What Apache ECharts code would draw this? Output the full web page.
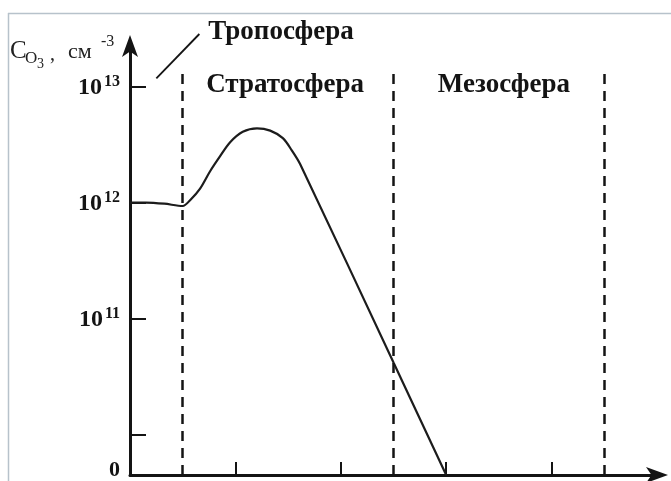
<!DOCTYPE html>
<html><head><meta charset="utf-8">
<script src="https://cdn.jsdelivr.net/npm/echarts@6/dist/echarts.min.js"></script>
<style>html,body{margin:0;padding:0;background:#fff}#c{width:671px;height:481px}</style>
</head><body><div id="c"></div>
<script>
// Altitude (km) vs log10 of ozone concentration (cm^-3); 9.65 = axis floor labelled "0"
const altitudeKm       = [0,     3.0,   6.5,   10.0,  11.4,  13.3,  15.2,  17.1,  19.0,  21.4,  24.1,  26.6,  29.0,  30.7,  32.3,  50.0,  60.0];
const logConcentration = [12.00, 12.00, 11.99, 11.97, 12.02, 12.12, 12.27, 12.40, 12.52, 12.61, 12.64, 12.62, 12.555, 12.45, 12.33, 10.62, 9.65];
const xTickKm = [20, 40, 60, 80];
const yTickExp = [10, 11, 12, 13];
const yLabelExp = [9.65, 11, 12, 13];
const layerBoundariesKm = [10, 50, 90];
const layerNames = ['Тропосфера', 'Стратосфера', 'Мезосфера'];
const layerRangesKm = [[0, 10], [10, 50], [50, 90]];

const Y_MIN = 9.65, Y_MAX = 13.35, X_MAX = 100, DASH_TOP = 13.12, LAYER_LABEL_LEVEL = 13.01;
const serif = '"Liberation Serif", "DejaVu Serif", serif';
const ink = '#141414';

const chart = echarts.init(document.getElementById('c'), null, {renderer: 'canvas'});
const option = {
  animation: false,
  backgroundColor: '#fff',
  grid: {left: 130, right: 14, top: 46, bottom: 6},
  xAxis: {
    type: 'value', min: 0, max: X_MAX,
    axisLine: {show: true, onZero: false, symbol: ['none', 'arrow'], symbolSize: [12, 22], symbolOffset: [0, 11], lineStyle: {color: ink, width: 3}},
    axisTick: {show: true, inside: true, length: 13, customValues: xTickKm, lineStyle: {color: ink, width: 2}},
    axisLabel: {show: false}, splitLine: {show: false}
  },
  yAxis: {
    type: 'value', min: Y_MIN, max: Y_MAX,
    axisLine: {show: true, onZero: false, symbol: ['none', 'arrow'], symbolSize: [12, 22], symbolOffset: [0, 11], lineStyle: {color: ink, width: 3}},
    axisTick: {show: true, inside: true, length: 16, customValues: yTickExp, lineStyle: {color: ink, width: 2}},
    axisLabel: {
      show: true, customValues: yLabelExp, margin: 10,
      formatter: v => v < 10 ? '{z|0}' : '{b|10}{s|' + Math.round(v) + '}',
      rich: {
        b: {fontFamily: serif, fontWeight: 'bold', fontSize: 24, color: ink, lineHeight: 26, verticalAlign: 'bottom', padding: [8, 0, 0, 0]},
        s: {fontFamily: serif, fontWeight: 'bold', fontSize: 16, color: ink, lineHeight: 26, verticalAlign: 'top', padding: [0, 0, 6, 2]},
        z: {fontFamily: serif, fontWeight: 'bold', fontSize: 22, color: ink, padding: [0, 0, 10, 0]}
      }
    },
    splitLine: {show: false}
  },
  series: [{
    type: 'line',
    data: altitudeKm.map((x, i) => [x, logConcentration[i]]),
    smooth: 0.3, symbol: 'none',
    lineStyle: {color: '#1c1c1c', width: 2.2},
    markLine: {
      silent: true, symbol: 'none', label: {show: false},
      lineStyle: {type: [10, 7], color: ink, width: 2.5},
      data: layerBoundariesKm.map(x => [{coord: [x, Y_MIN]}, {coord: [x, DASH_TOP]}])
    }
  }]
};
chart.setOption(option);

const px = p => chart.convertToPixel({gridIndex: 0}, p);
const graphics = [
  {type: 'line', shape: {x1: 8, y1: 13.5, x2: 671, y2: 13.5}, style: {stroke: '#b7c2cb', lineWidth: 1.5}},
  {type: 'line', shape: {x1: 8.5, y1: 13, x2: 8.5, y2: 481}, style: {stroke: '#b7c2cb', lineWidth: 1.5}}
];
// Layer names: stratosphere and mesosphere centred over their ranges
const labelShift = [0, -3, 5];
for (let i = 1; i < layerNames.length; i++) {
  const c = px([(layerRangesKm[i][0] + layerRangesKm[i][1]) / 2, LAYER_LABEL_LEVEL]);
  graphics.push({type: 'text', x: c[0] + labelShift[i], y: c[1], style: {text: layerNames[i], fill: ink, font: 'bold 27px ' + serif, align: 'center', verticalAlign: 'middle'}});
}
// Troposphere: leader line from the centre of its range up to the label
const t0 = px([(layerRangesKm[0][0] + layerRangesKm[0][1]) / 2, 13.07]);
const t1 = [t0[0] + 43, 34];
graphics.push({type: 'line', shape: {x1: t0[0], y1: t0[1], x2: t1[0], y2: t1[1]}, style: {stroke: ink, lineWidth: 1.8}});
graphics.push({type: 'text', x: t1[0] + 9, y: 32, style: {text: layerNames[0], fill: ink, font: 'bold 27px ' + serif, align: 'left', verticalAlign: 'middle'}});
// Y axis name  C_O3 , см^-3
const nm = [
  {t: 'C', x: 10, y: 51, f: '25px'},
  {t: 'O', x: 25, y: 59, f: '17px'},
  {t: '3', x: 37, y: 64, f: '14px'},
  {t: ',', x: 50, y: 55, f: '20px'},
  {t: 'см', x: 68, y: 52, f: '22px'},
  {t: '-3', x: 101, y: 42, f: '16px'}
];
nm.forEach(n => graphics.push({type: 'text', x: n.x, y: n.y, style: {text: n.t, fill: '#222', font: n.f + ' ' + serif, align: 'left', verticalAlign: 'middle'}}));
chart.setOption({graphic: graphics});
</script></body></html>
